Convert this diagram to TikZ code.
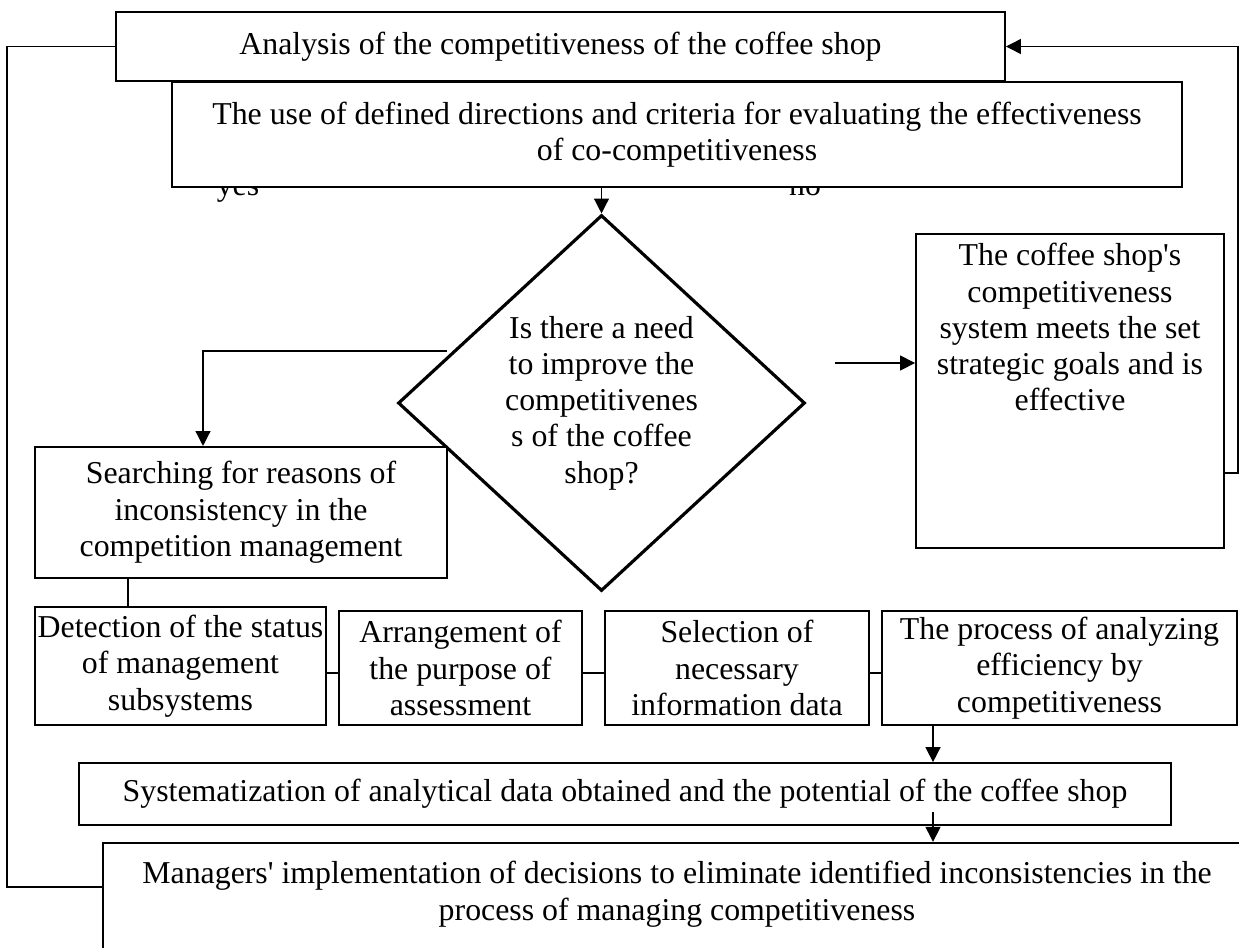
\documentclass[tikz,border=0pt]{standalone}
\usepackage{fontspec}
\setmainfont{Liberation Serif}[Ligatures=TeXOff]
\usepackage{tikz}
\usetikzlibrary{arrows.meta, positioning, shapes.geometric}

\tikzset{
    txt/.style={font=\fontsize{18.12}{20.66}\selectfont, align=center, inner sep=0pt},
    box/.style={txt, draw, line width=1.1pt, fill=white},
    conn/.style={line width=0.8pt},
    arr/.style={conn, -{Triangle[length=8.5pt, width=8.5pt]}}
}

\begin{document}
\begin{tikzpicture}[x=0.02cm, y=-0.02cm]
            \useasboundingbox (0,0) rectangle (1239,947);
            \clip (0,0) rectangle (1239,947);

            % answers, half hidden under the second box
            \node[txt, anchor=base] (yes) at (238,195) {yes};
            \node[txt, anchor=base] (no) at (805,195) {no};

            \node[box, line width=1.2pt, minimum width=17.78cm, minimum height=1.38cm] (analysis) at (560.5,46.5) {Analysis of the competitiveness of the coffee shop};
            \node[box, line width=1.2pt, minimum width=20.2cm, minimum height=2.1cm] (criteria) at (677,134.5) {The use of defined directions and criteria for evaluating the effectiveness\\of co-competitiveness};

            \node[txt, draw, shape=diamond, line width=1.8pt, minimum width=8.14cm, minimum height=7.52cm] (need) at (601.5,403) {Is there a need\\to improve the\\competitivenes\\s of the coffee\\shop?};

            \node[box, line width=1.2pt, minimum width=8.24cm, minimum height=2.62cm] (search) at (241,512.5) {Searching for reasons of\\inconsistency in the\\competition management};

            \node[box, minimum width=6.16cm, minimum height=6.28cm] (meets) at (1070,391) {};
            \node[txt, anchor=north] (meetstext) at (1070,243) {The coffee shop's\\competitiveness\\system meets the set\\strategic goals and is\\effective};

            \node[box, line width=0.9pt, minimum width=5.82cm, minimum height=2.36cm] (detect) at (180.5,666) {Detection of the status\\of management\\subsystems};
            \node[box, line width=0.9pt, minimum width=4.86cm, minimum height=2.28cm] (purpose) at (460.5,668) {Arrangement of\\the purpose of\\assessment};
            \node[box, line width=0.9pt, minimum width=5.28cm, minimum height=2.28cm] (select) at (737,668) {Selection of\\necessary\\information data};
            \node[box, line width=0.9pt, minimum width=7.1cm, minimum height=2.28cm] (process) at (1059.5,668) {The process of analyzing\\efficiency by\\competitiveness};

            \node[box, line width=1pt, minimum width=21.84cm, minimum height=1.24cm] (system) at (625,794) {Systematization of analytical data obtained and the potential of the coffee shop};

            \node[box, line width=1.4pt, minimum width=22.96cm, minimum height=3.14cm] (decide) at (677,921.5) {};
            \node[txt, anchor=north] (decidetext) at (677,861) {Managers' implementation of decisions to eliminate identified inconsistencies in the\\process of managing competitiveness};

            % loops back to the top
            \draw[conn] (analysis.west) -- ++(-108,0) |- (decide.west |- 0,887);
            \draw[arr] (meets.east |- 0,473) -- (1238,473) |- (analysis.east);

            \draw[arr] (criteria.south -| need.north) -- (need.north);

            \coordinate (yesfrom) at (447,351);
            \coordinate (nofrom) at (835,363);
            \draw[arr] (yesfrom) -| (search.north -| 203,0);
            \draw[arr] (nofrom) -- (nofrom -| meets.west);

            \draw[conn] (search.south -| 128,0) -- (detect.north -| 128,0);
            \draw[conn] (detect.east |- 0,673) -- (purpose.west |- 0,673);
            \draw[conn] (purpose.east |- 0,673) -- (select.west |- 0,673);
            \draw[conn] (select.east |- 0,673) -- (process.west |- 0,673);

            \coordinate (down) at (933,812);
            \draw[arr] (process.south -| down) -- (system.north -| down);
            \draw[arr] (down) -- (decide.north -| down);
        \end{tikzpicture}
\end{document}
